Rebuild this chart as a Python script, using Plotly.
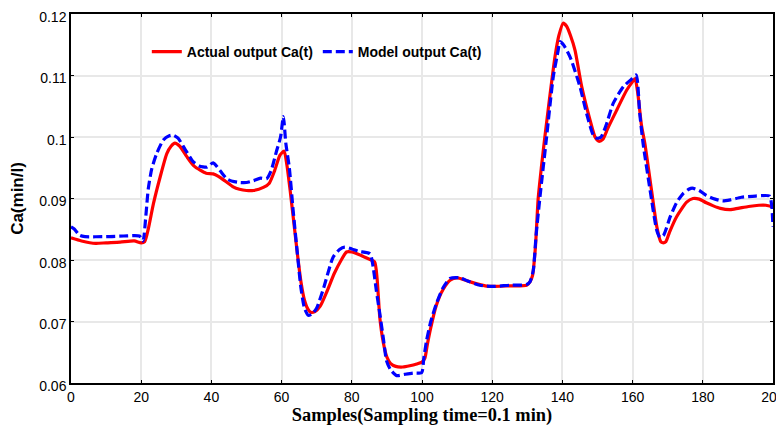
import plotly.graph_objects as go

# Actual output Ca(t) (red)
actual_x = [0, 3, 7, 10, 14, 18, 20, 21, 22, 23.5, 25.4, 27.3, 28.5, 29.6, 31, 33, 35, 36.8, 38.5, 40.5,
            42, 44, 46.2, 48, 50, 52, 54.8, 56.5, 58, 59.5, 60.7, 61.5, 62.5, 63.5, 64.5, 65.5, 66.5, 67.5,
            68.3, 69.5, 71, 73, 75, 77, 78.5, 80, 82, 84.7, 86.5, 87.2, 88, 89, 90, 91, 92.5, 94.5, 96.5,
            98.5, 100, 100.8, 101.5, 102.5, 104, 106, 108, 110, 112, 114, 116.5, 118, 120, 125, 129.8,
            130.8, 131.5, 132.3, 133.1, 134, 135, 136.5, 137.9, 139, 140.2, 141.2, 142.3, 143.6, 145.5,
            147.9, 149.3, 150.4, 151.5, 153, 155.5, 158.3, 160, 160.7, 161.5, 162.5, 163.5, 165.4, 166.9,
            168, 168.6, 169.5, 170.5, 172.5, 175.4, 177.2, 179, 181, 183, 185, 187.8, 190, 193, 196, 198,
            200]
actual_y = [0.0836, 0.0831, 0.0827, 0.0828, 0.0829, 0.0831, 0.0828, 0.0830, 0.0850, 0.0892, 0.0935,
            0.0973, 0.0985, 0.0990, 0.0985, 0.0968, 0.0953, 0.0946, 0.0941, 0.0940, 0.0936, 0.0928,
            0.0919, 0.0915, 0.0913, 0.0913, 0.0918, 0.0925, 0.0945, 0.0970, 0.0977, 0.0955, 0.0910,
            0.0860, 0.0810, 0.0765, 0.0735, 0.0720, 0.0715, 0.0716, 0.0725, 0.0750, 0.0778, 0.0800,
            0.0813, 0.0813, 0.0809, 0.0802, 0.0797, 0.0770, 0.0705, 0.0665, 0.0642, 0.0632, 0.0627,
            0.0626, 0.0628, 0.0631, 0.0634, 0.0640, 0.0662, 0.0690, 0.0725, 0.0752, 0.0767, 0.0771,
            0.0768, 0.0764, 0.0760, 0.0758, 0.0757, 0.0758, 0.0759, 0.0765, 0.0775, 0.0820, 0.0900,
            0.0950, 0.1000, 0.1070, 0.1131, 0.1165, 0.1185, 0.1180, 0.1165, 0.1141, 0.1082, 0.1027,
            0.1000, 0.0993, 0.0996, 0.1015, 0.1044, 0.1076, 0.1090, 0.1095, 0.1070, 0.1020, 0.0989,
            0.0913, 0.0854, 0.0830, 0.0828, 0.0830, 0.0845, 0.0870, 0.0894, 0.0900, 0.0899, 0.0893,
            0.0888, 0.0884, 0.0882, 0.0884, 0.0887, 0.0889, 0.0889, 0.0886]

# Model output Ca(t) (blue)
model_x = [0, 1, 2.5, 4, 10, 15, 19.5, 20.5, 21.3, 22, 23, 24.4, 26.3, 28, 29.1, 30.5, 32.5, 34.8, 36.5,
           38.7, 40.5, 42.5, 44.4, 46, 48.1, 50, 52, 54, 55.7, 57, 58.6, 59.7, 60.5, 61.2, 62.2, 63.3,
           64.5, 65.5, 66.5, 67.6, 68.8, 70, 72, 74.7, 76.5, 78, 80, 82, 85.2, 86.1, 87, 88, 89, 89.9,
           91, 92.8, 95, 97.5, 99.9, 100.5, 101.3, 102.5, 104.1, 106, 108, 110.8, 113, 116.5, 120.3,
           125, 129.8, 130.8, 131.7, 132.5, 133.6, 135.5, 137.4, 138.8, 139.3, 140.3, 142.2, 145, 146.9,
           148.8, 149.8, 151, 152.5, 154.5, 157.4, 159.5, 161, 162, 163, 165, 166.9, 167.8, 168.8, 170.7,
           172.5, 174.4, 176, 177, 179, 181, 183.5, 185.7, 188, 191, 195, 199, 199.6, 200]
model_y = [0.0854, 0.0850, 0.0840, 0.0838, 0.0838, 0.0839, 0.0839, 0.0831, 0.0870, 0.0915, 0.0948,
           0.0973, 0.0995, 0.1002, 0.1003, 0.0998, 0.0980, 0.0960, 0.0953, 0.0951, 0.0958, 0.0945,
           0.0932, 0.0928, 0.0926, 0.0926, 0.0929, 0.0933, 0.0932, 0.0945, 0.0978, 0.1000, 0.1033,
           0.0990, 0.0950, 0.0880, 0.0810, 0.0755, 0.0722, 0.0710, 0.0713, 0.0722, 0.0755, 0.0805,
           0.0817, 0.0821, 0.0818, 0.0814, 0.0810, 0.0788, 0.0750, 0.0712, 0.0672, 0.0636, 0.0622,
           0.0612, 0.0614, 0.0616, 0.0617, 0.0640, 0.0669, 0.0700, 0.0729, 0.0755, 0.0770, 0.0771,
           0.0766, 0.0759, 0.0757, 0.0759, 0.0760, 0.0765, 0.0783, 0.0840, 0.0902, 0.1000, 0.1098,
           0.1141, 0.1155, 0.1150, 0.1130, 0.1082, 0.1038, 0.1003, 0.0998, 0.1000, 0.1020, 0.1055,
           0.1082, 0.1093, 0.1101, 0.1040, 0.0989, 0.0913, 0.0848, 0.0837, 0.0840, 0.0870, 0.0893,
           0.0908, 0.0915, 0.0917, 0.0913, 0.0905, 0.0899, 0.0896, 0.0898, 0.0902, 0.0904, 0.0904,
           0.0890, 0.0854]

x_ticks = [0, 20, 40, 60, 80, 100, 120, 140, 160, 180, 200]
y_ticks = [0.06, 0.07, 0.08, 0.09, 0.10, 0.11, 0.12]
y_tick_text = ["0.06", "0.07", "0.08", "0.09", "0.1", "0.11", "0.12"]

fig = go.Figure()
fig.add_trace(go.Scatter(
    x=actual_x, y=actual_y, mode="lines", name="Actual output Ca(t)",
    line=dict(color="#ff0000", width=3.2, shape="spline", smoothing=0.6),
))
fig.add_trace(go.Scatter(
    x=model_x, y=model_y, mode="lines", name="Model output Ca(t)",
    line=dict(color="#0000ff", width=3.2, dash="9px,4px", shape="spline", smoothing=0.6),
))

axis_common = dict(
    showline=True, linecolor="black", linewidth=1.5, mirror="ticks",
    ticks="inside", ticklen=3, tickcolor="black", tickwidth=1,
    showgrid=True, gridcolor="#e8e8e8", gridwidth=2, zeroline=False,
    tickfont=dict(family="Liberation Sans", size=14, color="black"),
    ticklabeloverflow="allow",
    automargin=False,
)

fig.update_xaxes(
    range=[0, 200], tickvals=x_ticks,
    title=dict(text="Samples(Sampling time=0.1 min)",
               font=dict(family="Liberation Serif", size=18.4, color="black", weight="bold"),
               standoff=1),
    **axis_common,
)
fig.update_yaxes(
    range=[0.06, 0.12], tickvals=y_ticks, ticktext=y_tick_text,
    ticklabelshift=3,
    title=dict(text="Ca(min/l)",
               font=dict(family="Liberation Sans", size=17, color="black", weight="bold"),
               standoff=13),
    **axis_common,
)

# the page body adds an 8px offset; margins compensate so the plot lands where the reference has it
fig.update_layout(
    width=784, height=432,
    margin=dict(l=63, r=18.5, t=6, b=57, autoexpand=False),
    plot_bgcolor="white", paper_bgcolor="white",
    legend=dict(
        orientation="h", x=0.108, y=0.897, xanchor="left", yanchor="middle",
        bgcolor="rgba(0,0,0,0)",
        font=dict(family="Liberation Sans", size=14, color="black", weight="bold"),
    ),
)

fig.write_html("out.html")
